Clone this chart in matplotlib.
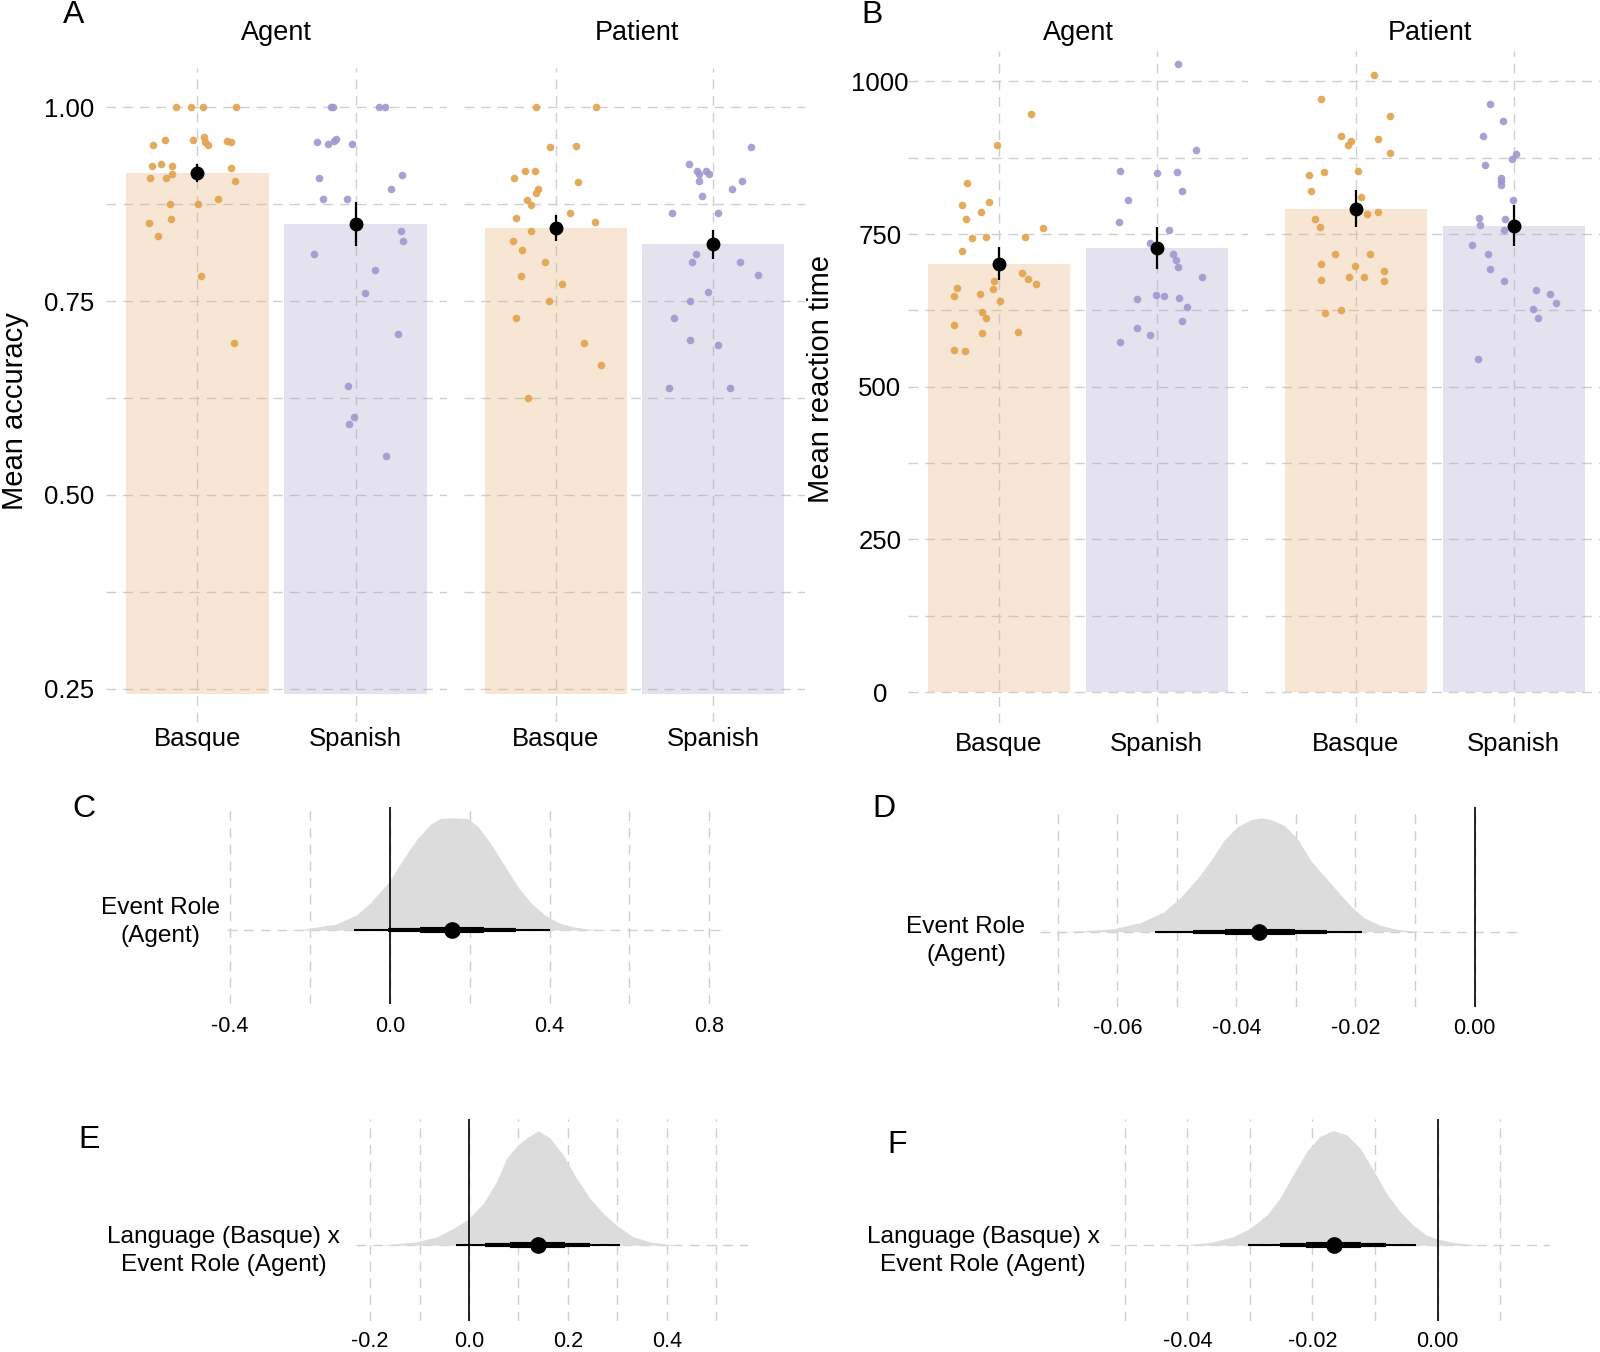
import numpy as np
import matplotlib.pyplot as plt

plt.rcParams['font.family'] = ['Liberation Sans', 'DejaVu Sans']

# ---------------- data ----------------
languages = ['Basque', 'Spanish']
roles = ['Agent', 'Patient']

# Panel A: mean accuracy (bar = mean, error bar = lo/hi)
acc_mean = {'Agent': [0.915, 0.849], 'Patient': [0.844, 0.823]}
acc_lo = {'Agent': [0.903, 0.821], 'Patient': [0.827, 0.804]}
acc_hi = {'Agent': [0.927, 0.877], 'Patient': [0.861, 0.842]}

# participant points: jitter (category units) and value
acc_agent_basque_jit = [-0.135, -0.042, 0.035, 0.245, -0.281, -0.206, -0.029, 0.039, 0.048, 0.068,
                        0.19, 0.213, -0.284, -0.229, -0.158, -0.3, -0.197, -0.158, 0.213, 0.235,
                        -0.171, 0.003, 0.132, -0.303, -0.168, -0.248, 0.026, 0.232]
acc_agent_basque = [1.0, 1.0, 1.0, 1.0, 0.951, 0.958, 0.958, 0.961, 0.955, 0.951,
                    0.956, 0.955, 0.924, 0.926, 0.924, 0.909, 0.909, 0.914, 0.921, 0.905,
                    0.875, 0.875, 0.881, 0.851, 0.856, 0.834, 0.7825, 0.696]
acc_agent_spanish_jit = [-0.158, -0.145, 0.148, 0.184, -0.245, -0.177, -0.135, -0.123, -0.023, -0.229,
                         0.29, 0.223, -0.203, -0.052, 0.287, 0.3, -0.261, 0.123, 0.061, 0.265,
                         -0.048, -0.01, -0.039, 0.194]
acc_agent_spanish = [1.0, 1.0, 1.0, 1.0, 0.955, 0.9525, 0.956, 0.959, 0.952, 0.909,
                     0.913, 0.895, 0.881, 0.881, 0.84, 0.827, 0.811, 0.79, 0.76, 0.708,
                     0.64, 0.60, 0.591, 0.55]
acc_patient_basque_jit = [-0.126, 0.255, -0.035, 0.129, -0.261, -0.194, -0.129, 0.145, -0.113, -0.126,
                          -0.181, -0.158, -0.248, 0.094, 0.252, -0.271, -0.158, -0.216, -0.068, -0.219,
                          0.042, -0.039, -0.252, 0.181, 0.29, -0.174]
acc_patient_basque = [1.0, 1.0, 0.948, 0.95, 0.909, 0.917, 0.917, 0.904, 0.895, 0.889,
                      0.88, 0.874, 0.857, 0.864, 0.852, 0.827, 0.84, 0.816, 0.80, 0.7825,
                      0.7725, 0.75, 0.728, 0.696, 0.667, 0.625]
acc_patient_spanish_jit = [0.242, -0.155, -0.103, -0.09, -0.045, -0.029, -0.09, 0.184, 0.116, -0.071,
                           -0.265, 0.032, -0.11, -0.132, 0.168, 0.284, -0.035, -0.145, -0.252, -0.148,
                           0.032, -0.284, 0.103]
acc_patient_spanish = [0.948, 0.926, 0.917, 0.914, 0.917, 0.914, 0.905, 0.905, 0.895, 0.885,
                       0.864, 0.864, 0.811, 0.80, 0.80, 0.783, 0.761, 0.75, 0.728, 0.70,
                       0.693, 0.6375, 0.6375]

# Panel B: mean reaction time
rt_mean = {'Agent': [701, 727], 'Patient': [791, 764]}
rt_lo = {'Agent': [675, 693], 'Patient': [762, 731]}
rt_hi = {'Agent': [729, 762], 'Patient': [822, 798]}

rt_agent_basque_jit = [0.204, -0.01, -0.204, -0.233, -0.061, -0.21, -0.113, -0.172, -0.084, -0.233,
                       0.278, 0.168, -0.265, -0.285, -0.123, -0.039, -0.032, 0.006, 0.146, 0.181,
                       0.236, -0.11, -0.081, -0.288, -0.11, 0.12, -0.288, -0.214]
rt_agent_basque = [947, 896, 833, 798, 803, 775, 786, 744, 746, 723,
                   760, 745, 662, 648, 652, 660, 674, 640, 687, 677,
                   669, 622, 613, 601, 588, 589, 560, 558]
rt_agent_spanish_jit = [0.136, 0.249, -0.23, 0.0, 0.129, 0.159, -0.181, -0.239, 0.078, -0.042,
                        0.104, 0.126, 0.136, 0.288, -0.003, 0.045, 0.139, -0.123, 0.191, 0.159,
                        -0.123, -0.042, -0.233]
rt_agent_spanish = [1029, 888, 854, 850, 852, 821, 806, 770, 757, 736,
                    718, 708, 696, 680, 651, 649, 645, 643, 631, 608,
                    597, 585, 573]
rt_patient_basque_jit = [0.117, -0.22, 0.217, -0.097, -0.032, -0.049, 0.142, 0.217, -0.298, -0.204,
                         0.01, -0.285, 0.032, -0.262, -0.227, 0.068, 0.142, -0.136, 0.091, -0.223,
                         -0.006, 0.178, -0.22, -0.042, 0.052, 0.175, -0.197, -0.097]
rt_patient_basque = [1010, 972, 944, 910, 902, 896, 906, 883, 847, 852,
                     853, 821, 810, 774, 762, 783, 787, 717, 717, 701,
                     698, 689, 675, 679, 679, 673, 621, 625]
rt_patient_spanish_jit = [-0.152, -0.071, -0.194, -0.184, 0.013, -0.013, -0.078, -0.078, -0.078, -0.003,
                          -0.223, -0.217, -0.058, -0.065, -0.265, -0.162, -0.152, -0.065, 0.142, 0.227,
                          0.265, 0.12, 0.152, -0.227]
rt_patient_spanish = [963, 936, 911, 863, 881, 873, 842, 837, 830, 806,
                      776, 765, 774, 757, 733, 717, 693, 674, 659, 652,
                      637, 627, 613, 545]

# Panels C-F: posterior densities (relative height) and point intervals
c_x = [-0.30, -0.26, -0.2199, -0.135, -0.0846, -0.0507, -0.0169, 0.0, 0.0338, 0.0677, 0.1015, 0.1268,
       0.1607, 0.1945, 0.2199, 0.2537, 0.2875, 0.3214, 0.3552, 0.389, 0.4228, 0.4567, 0.499, 0.541, 0.58]
c_h = [0.0, 0.002, 0.006, 0.053, 0.132, 0.235, 0.368, 0.441, 0.632, 0.809, 0.941, 0.994,
       1.0, 0.994, 0.926, 0.765, 0.574, 0.382, 0.235, 0.132, 0.065, 0.029, 0.009, 0.002, 0.0]
d_x = [-0.070, -0.0662, -0.0606, -0.0561, -0.0522, -0.0494, -0.0466, -0.0443, -0.0421, -0.0399, -0.0376,
       -0.0359, -0.0343, -0.032, -0.0298, -0.0275, -0.0253, -0.0231, -0.0208, -0.0186, -0.0158,
       -0.013, -0.0102, -0.0074]
d_h = [0.0, 0.006, 0.027, 0.08, 0.174, 0.301, 0.463, 0.625, 0.802, 0.920, 0.985,
       1.0, 0.988, 0.935, 0.823, 0.625, 0.493, 0.360, 0.227, 0.124, 0.056,
       0.021, 0.006, 0.0]
e_x = [-0.20, -0.173, -0.1057, -0.0653, -0.0316, 0.0, 0.029, 0.0559, 0.0761, 0.0963, 0.1165, 0.14,
       0.1636, 0.1906, 0.2175, 0.2444, 0.2714, 0.2983, 0.332, 0.3657, 0.3993, 0.433]
e_h = [0.0, 0.003, 0.029, 0.073, 0.146, 0.234, 0.365, 0.556, 0.760, 0.863, 0.936, 1.0,
       0.936, 0.789, 0.585, 0.409, 0.278, 0.175, 0.073, 0.029, 0.009, 0.0]
f_x = [-0.044, -0.0407, -0.0364, -0.0327, -0.030, -0.0273, -0.0252, -0.0231, -0.0209, -0.0188, -0.0167,
       -0.0146, -0.0124, -0.0103, -0.0082, -0.006, -0.0039, -0.0018, 0.0, 0.0025, 0.0057, 0.0089]
f_h = [0.0, 0.003, 0.023, 0.073, 0.146, 0.263, 0.409, 0.614, 0.819, 0.950, 1.0,
       0.965, 0.848, 0.658, 0.453, 0.292, 0.175, 0.088, 0.053, 0.023, 0.006, 0.0]

# point estimate, then (lo, hi) for 50%, 80%, 95% intervals
c_point, c_int = 0.157, [(0.076, 0.237), (-0.004, 0.317), (-0.089, 0.400)]
d_point, d_int = -0.0362, [(-0.0419, -0.0302), (-0.0473, -0.0248), (-0.0536, -0.0189)]
e_point, e_int = 0.1387, [(0.0828, 0.1939), (0.0323, 0.2444), (-0.0263, 0.3064)]
f_point, f_int = -0.0166, [(-0.0211, -0.0122), (-0.0252, -0.0082), (-0.0303, -0.0034)]

# ---------------- style ----------------
PT_COLORS = ['#E2A24C', '#9E98CF']
BAR_COLORS = ['#E4AF70', '#A8A2CA']
GRID = '#CFCFCF'
DASH = (0, (7, 5))
DENS = '#DCDCDC'

W, H = 1600, 1352
fig = plt.figure(figsize=(16, 13.52), dpi=100)


def box(left, right, top, bottom):
    return fig.add_axes([left / W, 1 - bottom / H, (right - left) / W, (bottom - top) / H])


def ftext(x, y, s, **kw):
    fig.text(x / W, 1 - y / H, s, **kw)


def bar_facet(ax, means, lo, hi, pts, ylim, major, minor, floor, show_y, ylab_pad, ylab_ha, xpad):
    cats = np.array([1, 2])
    for y in major + minor:
        ax.axhline(y, color=GRID, lw=1, ls=DASH, zorder=0)
    for x in cats:
        ax.axvline(x, color=GRID, lw=1, ls=DASH, zorder=0)
    ax.bar(cats, np.array(means) - floor, bottom=floor, width=0.9,
           color=BAR_COLORS, alpha=0.3, zorder=1, linewidth=0)
    for i, (jit, vals) in enumerate(pts):
        ax.scatter(cats[i] + np.array(jit), vals, s=30, color=PT_COLORS[i],
                   alpha=0.9, linewidths=0, zorder=2)
    ax.vlines(cats, lo, hi, color='black', lw=1.6, zorder=3)
    ax.plot(cats, means, 'o', color='black', ms=9, zorder=4)
    ax.set_xlim(0.42, 2.58)
    ax.set_ylim(*ylim)
    ax.set_xticks(cats)
    ax.set_xticklabels(languages, fontsize=18.7)
    ax.set_yticks(major)
    ax.tick_params(length=0, labelsize=18.5)
    ax.tick_params(axis='x', pad=xpad)
    if show_y:
        ax.tick_params(axis='y', pad=ylab_pad)
        for lab in ax.get_yticklabels():
            lab.set_ha(ylab_ha)
    else:
        ax.set_yticklabels([])
    for s in ax.spines.values():
        s.set_visible(False)


# ---------------- panel A ----------------
acc_pts = {'Agent': [(acc_agent_basque_jit, acc_agent_basque), (acc_agent_spanish_jit, acc_agent_spanish)],
           'Patient': [(acc_patient_basque_jit, acc_patient_basque), (acc_patient_spanish_jit, acc_patient_spanish)]}
a_boxes = {'Agent': (105.6, 447.4), 'Patient': (464.1, 804.8)}
a_title_x = {'Agent': 276, 'Patient': 637}
for k, role in enumerate(roles):
    l, r = a_boxes[role]
    ax = box(l, r, 68.3, 722.2)
    bar_facet(ax, acc_mean[role], acc_lo[role], acc_hi[role], acc_pts[role],
              (0.207, 1.05), [0.25, 0.50, 0.75, 1.00], [0.375, 0.625, 0.875],
              0.243, k == 0, 8.5, 'right', 3.5)
    if k == 0:
        ax.set_yticklabels(['0.25', '0.50', '0.75', '1.00'])
    ftext(a_title_x[role], 33, role, fontsize=19.5, ha='center', va='center')

# ---------------- panel B ----------------
rt_pts = {'Agent': [(rt_agent_basque_jit, rt_agent_basque), (rt_agent_spanish_jit, rt_agent_spanish)],
          'Patient': [(rt_patient_basque_jit, rt_patient_basque), (rt_patient_spanish_jit, rt_patient_spanish)]}
b_boxes = {'Agent': (907.6, 1248.0), 'Patient': (1264.5, 1605.3)}
b_title_x = {'Agent': 1078, 'Patient': 1430}
for k, role in enumerate(roles):
    l, r = b_boxes[role]
    ax = box(l, r, 50.9, 722.7)
    bar_facet(ax, rt_mean[role], rt_lo[role], rt_hi[role], rt_pts[role],
              (-50, 1050), [0, 250, 500, 750, 1000], [125, 375, 625, 875],
              0, k == 0, 20, 'center', 7)
    ftext(b_title_x[role], 33, role, fontsize=19.5, ha='center', va='center')

ftext(15, 411, 'Mean accuracy', fontsize=21, rotation=90, ha='center', va='center')
ftext(821, 379, 'Mean reaction time', fontsize=21, rotation=90, ha='center', va='center')


# ---------------- panels C-F ----------------
def halfeye(ax, xs, hs, point, ints, xlim, major, minor, labels, tpad):
    for x in major + minor:
        ax.axvline(x, color=GRID, lw=1, ls=DASH, zorder=0)
    ax.axhline(0, color=GRID, lw=1, ls=DASH, zorder=0)
    ax.fill_between(xs, 0, np.array(hs) * 0.91, color=DENS, lw=0, zorder=1)
    ax.axvline(0, color='#111111', lw=1.3, zorder=2)
    for (lo, hi), lw in zip(ints[::-1], [1.5, 3.0, 4.4]):
        ax.plot([lo, hi], [0, 0], color='black', lw=lw, solid_capstyle='butt', zorder=3)
    ax.plot([point], [0], 'o', color='black', ms=11, zorder=4)
    ax.set_xlim(*xlim)
    ax.set_ylim(-0.6, 1.0)
    ax.set_xticks(major)
    ax.set_xticklabels(labels, fontsize=15.5)
    ax.set_yticks([])
    ax.tick_params(length=0, pad=tpad)
    for s in ax.spines.values():
        s.set_visible(False)


ax = box(226.9, 724.0, 806.7, 1004.0)
halfeye(ax, c_x, c_h, c_point, c_int, (-0.408, 0.837), [-0.4, 0.0, 0.4, 0.8], [-0.2, 0.2, 0.6],
        ['-0.4', '0.0', '0.4', '0.8'], 8.5)
ax = box(1039.9, 1519.4, 806.7, 1006.7)
halfeye(ax, d_x, d_h, d_point, d_int, (-0.0730, 0.00754), [-0.06, -0.04, -0.02, 0.0],
        [-0.07, -0.05, -0.03, -0.01], ['-0.06', '-0.04', '-0.02', '0.00'], 8)
ax = box(356.3, 747.6, 1119.3, 1320.7)
halfeye(ax, e_x, e_h, e_point, e_int, (-0.228, 0.5636), [-0.2, 0.0, 0.2, 0.4], [-0.1, 0.1, 0.3, 0.5],
        ['-0.2', '0.0', '0.2', '0.4'], 7.3)
ax = box(1110.3, 1550.0, 1119.3, 1320.7)
halfeye(ax, f_x, f_h, f_point, f_int, (-0.0523, 0.01795), [-0.04, -0.02, 0.0],
        [-0.05, -0.03, -0.01, 0.01], ['-0.04', '-0.02', '0.00'], 7.3)

ftext(160.7, 922, 'Event Role\n(Agent)', fontsize=17.6, ha='center', va='center', linespacing=1.4)
ftext(966, 941, 'Event Role\n(Agent)', fontsize=17.6, ha='center', va='center', linespacing=1.4)
ftext(223.5, 1251, 'Language (Basque) x\nEvent Role (Agent)', fontsize=17.6, ha='center',
      va='center', linespacing=1.4)
ftext(983, 1251, 'Language (Basque) x\nEvent Role (Agent)', fontsize=17.6, ha='center',
      va='center', linespacing=1.4)

# panel letters
for letter, x, y in [('A', 73.5, 15.3), ('B', 872.4, 15.3), ('C', 83.7, 809), ('D', 883.7, 809),
                     ('E', 88.8, 1140), ('F', 897, 1145)]:
    ftext(x, y, letter, fontsize=23, ha='center', va='center')

fig.savefig('out.png', dpi=100)
